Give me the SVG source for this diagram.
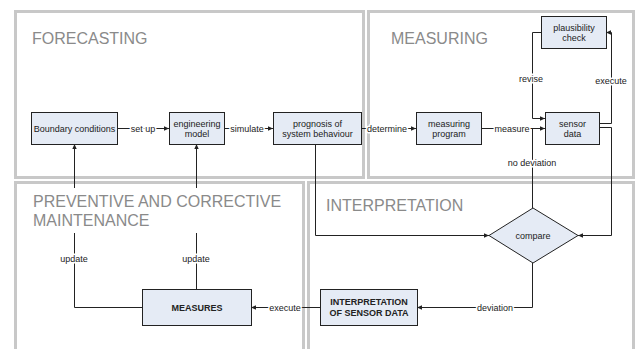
<svg xmlns="http://www.w3.org/2000/svg" width="638" height="349" viewBox="0 0 638 349">
<defs>
<style>
.panel{fill:none;stroke:#c8c8c8;stroke-width:3}
.title{font-family:"Liberation Sans",Arial,sans-serif;font-size:16px;fill:#8a8a8a}
.node{fill:#e5ebf5;stroke:#222;stroke-width:1}
.nt{font-family:"Liberation Sans",Arial,sans-serif;font-size:9px;fill:#222;text-anchor:middle}
.bold{font-weight:bold}
.conn{fill:none;stroke:#222;stroke-width:1}
.lbl{font-family:"Liberation Sans",Arial,sans-serif;font-size:9px;fill:#222;text-anchor:middle;stroke:#fff;stroke-width:3;paint-order:stroke;stroke-linejoin:round}
</style>
<marker id="arr" markerUnits="userSpaceOnUse" markerWidth="6" markerHeight="6" refX="5" refY="3" orient="auto">
<path d="M0,0.8 L5,3 L0,5.2 Z" fill="#222"/>
</marker>
</defs>
<rect width="638" height="349" fill="#fff"/>
<g id="panels">
<rect class="panel" x="15.5" y="11.5" width="348" height="166"/>
<rect class="panel" x="368.5" y="11.5" width="265" height="166"/>
<rect class="panel" x="15.5" y="182.5" width="288" height="180"/>
<rect class="panel" x="308.5" y="182.5" width="325" height="180"/>
</g>
<g id="connectors">
<path class="conn" d="M117,128.5 H169" marker-end="url(#arr)"/>
<path class="conn" d="M224,128.5 H273" marker-end="url(#arr)"/>
<path class="conn" d="M361,128.5 H416" marker-end="url(#arr)"/>
<path class="conn" d="M481,128.5 H545" marker-end="url(#arr)"/>
<path class="conn" d="M532.5,208 V128.5"/>
<path class="conn" d="M541,32.5 H532.5 V118.5 H545" marker-end="url(#arr)"/>
<path class="conn" d="M599,123.5 H611.5 V32.5 H606" marker-end="url(#arr)"/>
<path class="conn" d="M599,127.5 H611.5 V235.5 H578" marker-end="url(#arr)"/>
<path class="conn" d="M315.5,144 V235.5 H489" marker-end="url(#arr)"/>
<path class="conn" d="M532.5,263 V307.5 H417" marker-end="url(#arr)"/>
<path class="conn" d="M320,307.5 H251" marker-end="url(#arr)"/>
<path class="conn" d="M142,307.5 H74.5 V144" marker-end="url(#arr)"/>
<path class="conn" d="M196.5,289 V144" marker-end="url(#arr)"/>
<text class="lbl" x="143" y="131.5">set up</text>
<text class="lbl" x="247" y="131.5">simulate</text>
<text class="lbl" x="387" y="131.5">determine</text>
<text class="lbl" x="512" y="131.5">measure</text>
<text class="lbl" x="532" y="166">no deviation</text>
<text class="lbl" x="531" y="82">revise</text>
<text class="lbl" x="611" y="84">execute</text>
<text class="lbl" x="495" y="310.5">deviation</text>
<text class="lbl" x="285" y="310.5">execute</text>
<text class="lbl" x="74" y="262">update</text>
<text class="lbl" x="196" y="262">update</text>
</g>
<g id="titles">
<text class="title" x="32" y="44">FORECASTING</text>
<text class="title" x="391" y="44">MEASURING</text>
<rect x="28" y="188" width="262" height="45" fill="#fff"/>
<text class="title" x="33" y="207">PREVENTIVE AND CORRECTIVE</text>
<text class="title" x="33" y="226">MAINTENANCE</text>
<text class="title" x="326" y="211">INTERPRETATION</text>
</g>
<g id="boundary-conditions">
<rect class="node" x="31.5" y="112.5" width="86" height="32"/>
<text class="nt" x="74.5" y="131.5">Boundary conditions</text>
</g>
<g id="engineering-model">
<rect class="node" x="169.5" y="112.5" width="55" height="32"/>
<text class="nt" x="197" y="126.5">engineering</text>
<text class="nt" x="197" y="136.5">model</text>
</g>
<g id="prognosis">
<rect class="node" x="273.5" y="112.5" width="88" height="32"/>
<text class="nt" x="317.5" y="126.5">prognosis of</text>
<text class="nt" x="317.5" y="136.5">system behaviour</text>
</g>
<g id="measuring-program">
<rect class="node" x="416.5" y="112.5" width="65" height="32"/>
<text class="nt" x="449" y="126.5">measuring</text>
<text class="nt" x="449" y="136.5">program</text>
</g>
<g id="sensor-data">
<rect class="node" x="545.5" y="112.5" width="54" height="32"/>
<text class="nt" x="572.5" y="126.5">sensor</text>
<text class="nt" x="572.5" y="136.5">data</text>
</g>
<g id="plausibility-check">
<rect class="node" x="541.5" y="16.5" width="65" height="32"/>
<text class="nt" x="574" y="30.5">plausibility</text>
<text class="nt" x="574" y="41">check</text>
</g>
<g id="compare">
<path class="node" d="M533,208 L578,235.5 L533,263 L489,235.5 Z"/>
<text class="nt" x="533" y="238.5">compare</text>
</g>
<g id="interpretation-of-sensor-data">
<rect class="node" x="320.5" y="289.5" width="97" height="36"/>
<text class="nt bold" x="369" y="305">INTERPRETATION</text>
<text class="nt bold" x="369" y="315.5">OF SENSOR DATA</text>
</g>
<g id="measures">
<rect class="node" x="142.5" y="289.5" width="109" height="36"/>
<text class="nt bold" x="197" y="310.5">MEASURES</text>
</g>
</svg>
